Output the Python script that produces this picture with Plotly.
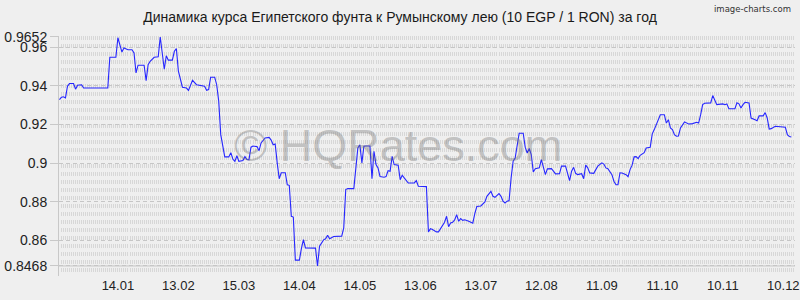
import pandas as pd
import plotly.graph_objects as go

# ---- data -------------------------------------------------------------
start_date = "2024-12-16"

# days since start_date
days = [
    0, 1, 2, 3, 4, 5, 7, 8, 9, 11, 12, 24, 25, 28, 29, 30, 31, 32, 34, 36,
    37, 38, 39, 42, 43, 44, 45, 47, 49, 50, 51, 52, 53, 54, 56, 57, 58, 59, 61, 63,
    64, 66, 68, 70, 72, 73, 74, 75, 77, 78, 79, 80, 82, 84, 85, 86, 87, 88, 89, 91,
    92, 93, 94, 95, 96, 98, 99, 100, 102, 104, 105, 106, 107, 108, 109, 110, 112, 113, 114, 115,
    116, 117, 119, 120, 121, 122, 124, 127, 128, 129, 131, 132, 133, 134, 136, 138, 140, 141, 142, 143,
    146, 148, 149, 150, 151, 152, 154, 155, 156, 157, 158, 159, 161, 162, 163, 164, 165, 166, 168, 169,
    170, 171, 173, 176, 177, 178, 182, 183,
    184, 185, 187, 188, 190, 191, 192, 193, 194, 195, 196, 197, 198, 199, 200, 201, 203, 205, 206, 207,
    209, 211, 212, 214, 215, 216, 218, 219, 220, 221, 222, 223, 224, 225, 226, 227, 228, 230, 231, 232,
    233, 234, 235, 236, 238, 239, 240, 241, 242, 244, 245, 246, 248, 249, 251, 252, 253, 254, 255, 256,
    257, 259, 260, 261, 262, 263, 265, 266, 267, 269, 270, 271, 272,
    274, 275, 276, 277, 278, 279, 281, 282, 283, 284, 285, 286, 287, 288, 290, 291, 293, 294, 295, 296,
    297, 298, 300, 301, 302, 303, 304, 305, 306, 307, 308, 309, 310, 312, 314, 316, 317, 318, 319, 320,
    323, 324, 325, 326, 329, 330, 331, 332, 335, 336, 337, 338, 339, 340, 342, 343, 345, 346, 347, 349,
    350, 351, 352, 353, 355, 357, 359, 360, 361, 362, 363,
]

# 10 EGP in RON
rates = [
    0.9328, 0.9340, 0.9343, 0.9337, 0.9397, 0.9411, 0.9411, 0.9382, 0.9402, 0.9405,
    0.9388, 0.9388, 0.9547, 0.9547, 0.9648, 0.9612, 0.9574, 0.9595, 0.9586, 0.9586,
    0.9569, 0.9466, 0.9506, 0.9506, 0.9426, 0.9509, 0.9526, 0.9547, 0.9550, 0.9652,
    0.9560, 0.9485, 0.9555, 0.9532, 0.9532, 0.9578, 0.9592, 0.9475, 0.9392, 0.9388,
    0.9376, 0.9428, 0.9405, 0.9402, 0.9397, 0.9376, 0.9380, 0.9444, 0.9444, 0.9405,
    0.9320, 0.9147, 0.9032, 0.9032, 0.9054, 0.9021, 0.9009, 0.9038, 0.9009, 0.9013,
    0.9033, 0.9018, 0.9016, 0.9082, 0.9088, 0.9085, 0.9064, 0.9104, 0.9130, 0.9133,
    0.9119, 0.9095, 0.9099, 0.9001, 0.8919, 0.8950, 0.8950, 0.8888, 0.8885, 0.8725,
    0.8721, 0.8498, 0.8498, 0.8558, 0.8604, 0.8561, 0.8561, 0.8560, 0.8468, 0.8570,
    0.8603, 0.8608, 0.8627, 0.8609, 0.8620, 0.8620, 0.8622, 0.8665, 0.8863, 0.8868,
    0.8868, 0.9078, 0.9095, 0.9001, 0.9087, 0.9088, 0.9088, 0.8919, 0.9061, 0.8992,
    0.8975, 0.8930, 0.8927, 0.8930, 0.8961, 0.8958, 0.9035, 0.8992, 0.8989, 0.8914,
    0.8937, 0.8923, 0.8897, 0.8897, 0.8909, 0.8880, 0.8878, 0.8644,
    0.8661, 0.8656, 0.8644, 0.8644, 0.8675, 0.8694, 0.8725, 0.8671, 0.8690, 0.8694,
    0.8706, 0.8733, 0.8699, 0.8713, 0.8704, 0.8707, 0.8699, 0.8689, 0.8739, 0.8775,
    0.8778, 0.8799, 0.8828, 0.8854, 0.8828, 0.8823, 0.8842, 0.8828, 0.8803, 0.8794,
    0.8803, 0.8806, 0.8923, 0.9009, 0.9026, 0.9095, 0.9154, 0.9154, 0.9082, 0.9052,
    0.9075, 0.9044, 0.8954, 0.8971, 0.8975, 0.9018, 0.8975, 0.8940, 0.8970, 0.8971,
    0.8958, 0.8944, 0.8945, 0.8984, 0.8984, 0.8949, 0.8909, 0.8958, 0.8978, 0.8947,
    0.8940, 0.8945, 0.8919, 0.8989, 0.8975, 0.8949, 0.8947, 0.8966, 0.8984, 0.9001,
    0.8995, 0.8975, 0.8971,
    0.8940, 0.8906, 0.8888, 0.8888, 0.8950, 0.8949, 0.8940, 0.8930, 0.8966, 0.8989,
    0.9032, 0.9033, 0.9023, 0.9040, 0.9054, 0.9078, 0.9082, 0.9151, 0.9173, 0.9199,
    0.9230, 0.9250, 0.9250, 0.9207, 0.9224, 0.9182, 0.9173, 0.9147, 0.9139, 0.9140,
    0.9182, 0.9199, 0.9213, 0.9202, 0.9204, 0.9211, 0.9207, 0.9250, 0.9302, 0.9309,
    0.9311, 0.9349, 0.9323, 0.9302, 0.9306, 0.9302, 0.9306, 0.9281, 0.9281, 0.9312,
    0.9306, 0.9285, 0.9302, 0.9314, 0.9311, 0.9233, 0.9224, 0.9219, 0.9244, 0.9244,
    0.9261, 0.9233, 0.9176, 0.9178, 0.9190, 0.9188, 0.9185, 0.9185, 0.9147, 0.9137,
    0.9135,
]
assert len(days) == len(rates), (len(days), len(rates))

x_tick_dates = ["2025-01-14", "2025-02-13", "2025-03-15", "2025-04-14", "2025-05-14",
                "2025-06-13", "2025-07-13", "2025-08-12", "2025-09-11", "2025-10-11",
                "2025-11-10", "2025-12-10"]
x_tick_labels = ["14.01", "13.02", "15.03", "14.04", "14.05", "13.06",
                 "13.07", "12.08", "11.09", "11.10", "10.11", "10.12"]

y_tick_vals = [min(rates), 0.86, 0.88, 0.90, 0.92, 0.94, 0.96, max(rates)]
y_tick_labels = ["0.8468", "0.86", "0.88", "0.9", "0.92", "0.94", "0.96", "0.9652"]

title_text = "Динамика курса Египетского фунта к Румынскому лею (10 EGP / 1 RON) за год"

# ---- figure -----------------------------------------------------------
t0 = pd.Timestamp(start_date)
dates = [t0 + pd.Timedelta(days=d) for d in days]

BG = "#efefef"
GRID = "#d7d7d7"

fig = go.Figure()
fig.add_trace(go.Scatter(
    x=dates, y=rates, mode="lines",
    line=dict(color="#2626ff", width=1.1),
    hoverinfo="skip", showlegend=False,
))

fig.add_shape(type="line", xref="paper", x0=0, x1=1, yref="y",
              y0=min(rates), y1=min(rates),
              line=dict(color="#c4c4c4", width=1), layer="below")

fig.add_annotation(text="© HQRates.com", xref="paper", yref="paper",
                   x=0.46, y=0.545, showarrow=False,
                   font=dict(family="Liberation Sans, Arial", size=45,
                             color="rgba(110,110,110,0.36)"))

fig.add_annotation(text="image-charts.com", xref="paper", yref="paper",
                   x=0.997, y=1.1125, xanchor="right", yanchor="middle",
                   showarrow=False,
                   font=dict(family="DejaVu Sans", size=8.5, color="#333333"))

fig.update_layout(
    width=800, height=300,
    margin=dict(l=59, r=0, t=36, b=24),
    paper_bgcolor=BG, plot_bgcolor=BG,
    title=dict(text=title_text, x=0.5, xref="container", xanchor="center",
               y=1 - 17 / 300, yref="container", yanchor="middle",
               font=dict(family="Liberation Sans, Arial", size=14, color="#1a1a1a")),
    font=dict(family="Liberation Sans, Arial", color="#222222"),
    xaxis=dict(
        type="date",
        range=[t0 - pd.Timedelta(hours=5), t0 + pd.Timedelta(hours=int(364.8 * 24))],
        tickmode="array", tickvals=x_tick_dates, ticktext=x_tick_labels,
        ticks="", showline=False, zeroline=False,
        ticklabeloverflow="allow",
        showgrid=True, gridcolor=GRID, gridwidth=1, griddash="4px,4px",
        minor=dict(tickmode="linear", tick0=start_date, dtick=86400000,
                   showgrid=True, gridcolor=GRID, gridwidth=1, griddash="4px,4px",
                   ticks=""),
        tickfont=dict(size=13, color="#222222"),
    ),
    yaxis=dict(
        range=[0.8416, 0.9657],
        tickmode="array", tickvals=y_tick_vals, ticktext=y_tick_labels,
        ticks="outside", ticklen=8, tickcolor="#c8c8c8", tickwidth=1,
        showline=True, linecolor="#c8c8c8", linewidth=1,
        showgrid=True, gridcolor="#c6c6c6", gridwidth=1, griddash="4px,3px",
        zeroline=False,
        tickfont=dict(size=14, color="#222222"),
    ),
)

fig.write_html("out.html")
